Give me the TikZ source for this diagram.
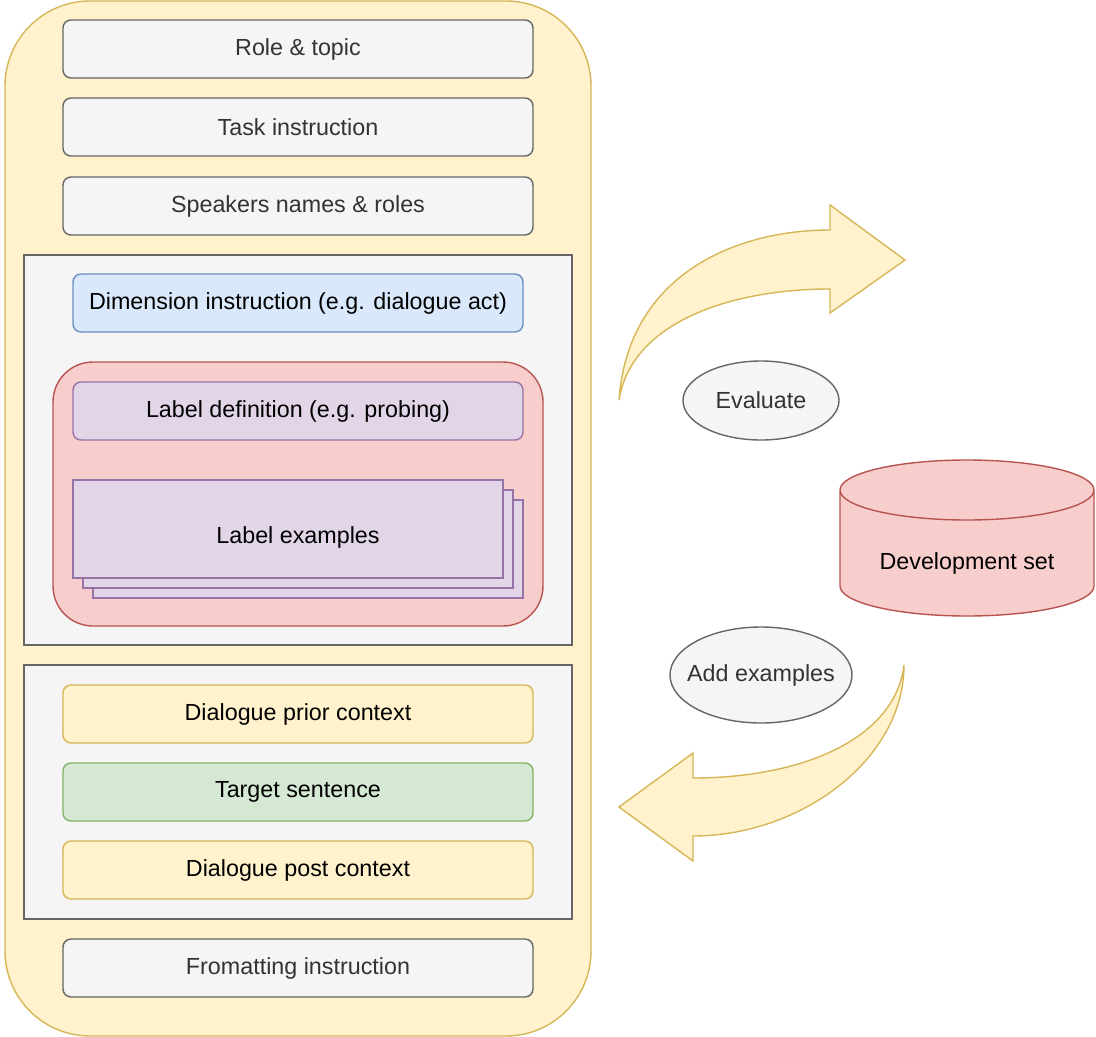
\documentclass[tikz,border=0pt]{standalone}
\usepackage{fontspec}
\setmainfont{Liberation Sans}
\usetikzlibrary{shapes.geometric}
\definecolor{yfill}{HTML}{FFF2CC}
\definecolor{ydraw}{HTML}{D6B656}
\definecolor{gfill}{HTML}{F5F5F5}
\definecolor{gdraw}{HTML}{666666}
\definecolor{gtext}{HTML}{333333}
\definecolor{bfill}{HTML}{DAE8FC}
\definecolor{bdraw}{HTML}{6C8EBF}
\definecolor{rfill}{HTML}{F8CECC}
\definecolor{rdraw}{HTML}{B85450}
\definecolor{pfill}{HTML}{E1D5E7}
\definecolor{pdraw}{HTML}{9673A6}
\definecolor{tfill}{HTML}{D5E8D4}
\definecolor{tdraw}{HTML}{82B366}
\begin{document}
\begin{tikzpicture}[x=1pt,y=-1pt,line width=1.4pt,
    font=\fontsize{23.3}{28}\selectfont,
    box/.style={draw,rectangle,rounded corners=8pt,minimum width=470pt,minimum height=58pt,inner sep=0pt},
    graybox/.style={box,fill=gfill,draw=gdraw,text=gtext},
    group/.style={draw=gdraw,fill=gfill,rectangle,minimum width=548pt,inner sep=0pt},
    sheet/.style={draw=pdraw,fill=pfill,minimum width=430pt,minimum height=98pt},
    oval/.style={draw=gdraw,fill=gfill},
    bigarrow/.style={draw=ydraw,fill=yfill,line join=miter}]
  \useasboundingbox (0,0) rectangle (1096,1037);
  % prompt container
  \node[draw=ydraw,fill=yfill,rounded corners=85pt,minimum width=586pt,minimum height=1035pt] (prompt) at (298,518.5) {};
  \node[graybox] (role) at (298,49) {Role \& topic};
  \node[graybox] (task) at (298,127) {Task instruction};
  \node[graybox] (speakers) at (298,206) {Speakers names \& roles};
  % dimension part
  \node[group,minimum height=390pt] (dimgroup) at (298,450) {};
  \node[box,minimum width=450pt,fill=bfill,draw=bdraw] (dim) at (298,303) {Dimension instruction (e.g. dialogue act)};
  \node[draw=rdraw,fill=rfill,rounded corners=40pt,minimum width=490pt,minimum height=264pt] (labels) at (298,494) {};
  \node[box,minimum width=450pt,fill=pfill,draw=pdraw] (labeldef) at (298,411) {Label definition (e.g. probing)};
  \node[sheet] (ex3) at (308,549) {};
  \node[sheet] (ex2) at (298,539) {};
  \node[sheet] (ex1) at (288,529) {};
  \node (extext) at (298,537) {Label examples};
  % dialogue part
  \node[group,minimum height=254pt] (dialgroup) at (298,792) {};
  \node[box,fill=yfill,draw=ydraw] (prior) at (298,714) {Dialogue prior context};
  \node[box,fill=tfill,draw=tdraw] (target) at (298,792) {Target sentence};
  \node[box,fill=yfill,draw=ydraw] (post) at (298,870) {Dialogue post context};
  \node[graybox] (format) at (298,968) {Fromatting instruction};
  % loop
  \draw[oval] (761,400.5) ellipse[x radius=78pt,y radius=39.5pt];
  \node[text=gtext] (eval) at (761,400.5) {Evaluate};
  \draw[oval] (761,675) ellipse[x radius=91pt,y radius=48pt];
  \node[text=gtext] (add) at (761,675) {Add examples};
  \fill[rfill] (840,490) -- (840,586) arc[start angle=180,end angle=360,x radius=127pt,y radius=30pt]
    -- (1094,490) arc[start angle=0,end angle=180,x radius=127pt,y radius=30pt] -- cycle;
  \draw[rdraw] (840,490) -- (840,586) arc[start angle=180,end angle=360,x radius=127pt,y radius=30pt]
    -- (1094,490) arc[start angle=0,end angle=360,x radius=127pt,y radius=30pt];
  \node (devset) at (967,563) {Development set};
  \draw[bigarrow] (619,400) .. controls (628,275) and (735,230) .. (830,230) -- (830,205) -- (905,260)
    -- (830,313) -- (830,289) .. controls (735,289) and (632,320) .. (619,400) -- cycle;
  \draw[bigarrow] (904,665) .. controls (904,760) and (800,836) .. (693,836) -- (693,861) -- (619,807)
    -- (693,753) -- (693,778) .. controls (800,778) and (895,740) .. (904,665) -- cycle;
\end{tikzpicture}
\end{document}
